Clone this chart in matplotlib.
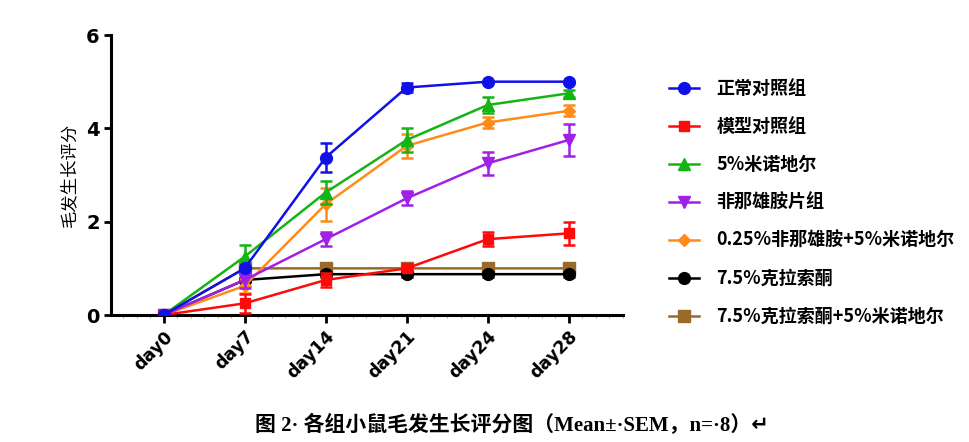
import numpy as np
import matplotlib
matplotlib.use("Agg")
import matplotlib.pyplot as plt
from matplotlib.ticker import MultipleLocator

plt.rcParams['font.family'] = ['Noto Sans CJK SC', 'DejaVu Sans']

# data
days = ['day0', 'day7', 'day14', 'day21', 'day24', 'day28']
labels = ['正常对照组', '模型对照组', '5%米诺地尔', '非那雄胺片组',
          '0.25%非那雄胺+5%米诺地尔', '7.5%克拉索酮', '7.5%克拉索酮+5%米诺地尔']

normal = [0, 1.0, 3.375, 4.875, 5.0, 5.0]
normal_sem = [0, 0.0, 0.32, 0.10, 0.0, 0.0]
model = [0, 0.25, 0.75, 1.0, 1.625, 1.75]
model_sem = [0, 0.20, 0.15, 0.05, 0.15, 0.25]
minox = [0, 1.25, 2.625, 3.75, 4.5, 4.75]
minox_sem = [0, 0.25, 0.25, 0.25, 0.17, 0.07]
finast = [0, 0.75, 1.625, 2.5, 3.25, 3.75]
finast_sem = [0, 0.18, 0.15, 0.15, 0.25, 0.35]
fin_minox = [0, 0.625, 2.375, 3.625, 4.125, 4.375]
fin_minox_sem = [0, 0.15, 0.35, 0.25, 0.12, 0.12]
clasc = [0, 0.75, 0.875, 0.875, 0.875, 0.875]
clasc_sem = [0, 0.05, 0.05, 0.05, 0.05, 0.05]
clasc_minox = [0, 1.0, 1.0, 1.0, 1.0, 1.0]
clasc_minox_sem = [0, 0.0, 0.0, 0.0, 0.0, 0.0]

series = [normal, model, minox, finast, fin_minox, clasc, clasc_minox]
sems = [normal_sem, model_sem, minox_sem, finast_sem, fin_minox_sem, clasc_sem, clasc_minox_sem]
colors = ['#1010E8', '#FF0A0A', '#14B414', '#A020E8', '#FF8C1A', '#000000', '#9A6A28']
markers = ['o', 's', '^', 'v', 'D', 'o', 's']
msizes = [8.5, 7.5, 8.5, 8.5, 6, 8.5, 8]

fig = plt.figure(figsize=(9.7, 4.42), dpi=100)
ax = fig.add_axes([0.1144, 0.2873, 0.5278, 0.6335])

x = np.arange(len(days))
n = len(series)
for i in range(n):
    z = 10 + (n - i) * 2
    ax.errorbar(x, series[i], yerr=sems[i], fmt='none', ecolor=colors[i],
                elinewidth=1.8, capsize=4.3, capthick=1.8, zorder=z)
    ax.plot(x, series[i], color=colors[i], lw=1.8, marker=markers[i],
            ms=msizes[i], mfc=colors[i], mec=colors[i], label=labels[i], zorder=z + 1)

ax.set_xlim(-0.65, 5.67)
ax.set_ylim(0, 6)
ax.set_yticks([0, 2, 4, 6])
ax.set_xticks(x)
ax.set_xticklabels(days, rotation=45, ha='right', rotation_mode='anchor',
                   fontsize=12.5, fontweight='bold', family='DejaVu Sans')
for t in ax.get_yticklabels():
    t.set_fontsize(14)
    t.set_fontweight('bold')
    t.set_family('DejaVu Sans')
ax.xaxis.set_minor_locator(MultipleLocator(1 / 6))
ax.tick_params(axis='x', which='major', length=6, width=2, pad=3)
ax.tick_params(axis='x', which='minor', length=2, width=0.6, color='#999999')
ax.tick_params(axis='y', which='major', length=5, width=2, pad=3)
for s in ['top', 'right']:
    ax.spines[s].set_visible(False)
for s in ['left', 'bottom']:
    ax.spines[s].set_linewidth(2.2)
ax.set_ylabel('毛发生长评分', fontsize=12.5, labelpad=6)

leg = ax.legend(loc='upper left', bbox_to_anchor=(0.68, 0.841),
                bbox_transform=fig.transFigure, frameon=False,
                prop={'size': 13, 'weight': 'bold'}, handlelength=1.7,
                labelspacing=1.05, handletextpad=0.95, borderpad=0)

fig.text(0.528, 0.038, '图 2· 各组小鼠毛发生长评分图（Mean±·SEM，n=·8）↵',
         ha='center', va='center', fontsize=15, fontweight='bold',
         family=['Liberation Serif', 'Noto Sans CJK SC', 'DejaVu Sans'])

fig.savefig('out.png', dpi=100)
